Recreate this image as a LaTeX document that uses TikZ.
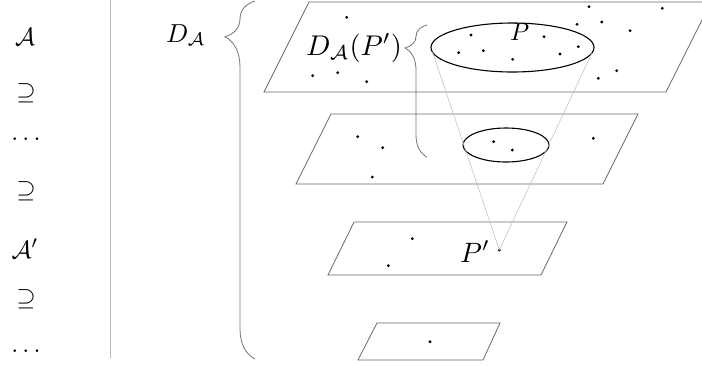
\documentclass[tikz,border=0pt]{standalone}
\usepackage{graphicx}
\usetikzlibrary{decorations.pathreplacing,shapes.geometric}
\definecolor{planegray}{RGB}{105,105,105}
\definecolor{conegray}{RGB}{195,195,195}
\definecolor{sepgray}{RGB}{185,185,185}
\definecolor{bracegray}{RGB}{115,115,115}
\newcommand{\scaledmath}[2]{\scalebox{#1}{$#2$}}
\begin{document}
\begin{tikzpicture}[x=1pt,y=-1pt,
  plane/.style={draw=planegray, line width=0.8pt},
  pt/.style={circle, fill=black, inner sep=0pt, minimum size=3.1pt},
  ell/.style={draw=black, ellipse, inner sep=0pt, line width=1.1pt},
  cone/.style={draw=conegray, line width=0.6pt},
  sepline/.style={draw=sepgray, line width=0.8pt},
  bigbrace/.style={draw=bracegray, line width=0.8pt, decorate},
  leftsym/.style={anchor=base, inner sep=0pt},
  lab/.style={anchor=base west, inner sep=0pt}
]
\useasboundingbox (0,0) rectangle (702,365);
\clip (0,0) rectangle (702,365);

% left column
\node[leftsym] (s1) at (25,45) {\scaledmath{2.5}{\mathcal{A}}};
\node[leftsym] (s2) at (26,99) {\scaledmath{2.5}{\supseteq}};
\node[leftsym] (s3) at (26,140) {\scaledmath{2.5}{\dots}};
\node[leftsym] (s4) at (26,197) {\scaledmath{2.5}{\supseteq}};
\node[leftsym] (s5) at (25,258) {\scaledmath{2.5}{\mathcal{A}'}};
\node[leftsym] (s6) at (26,305) {\scaledmath{2.5}{\supseteq}};
\node[leftsym] (s7) at (26,352) {\scaledmath{2.5}{\dots}};

% separator
\coordinate (septop) at (110,0);
\coordinate (sepbot) at (110,358);
\draw[sepline] (septop) -- (sepbot);

% D_A label and big brace
\node[lab] (DA) at (166,42) {\scaledmath{2.6}{D_{\mathcal{A}}}};
\draw[bigbrace, decoration={brace, amplitude=30pt, aspect=0.9}] (255,359) -- (255,1);

% planes
\draw[plane] (264,92) -- (666,92) -- (711,2) -- (309,2) -- cycle;
\draw[plane] (296,184) -- (603,184) -- (638,114) -- (331,114) -- cycle;
\draw[plane] (328,275) -- (541,275) -- (567,222) -- (354,222) -- cycle;
\draw[plane] (358,360) -- (483,360) -- (500,323) -- (377,323) -- cycle;

% ellipses
\node[ell, minimum width=163pt, minimum height=49pt] (e1) at (512.5,47.5) {};
\node[ell, minimum width=86pt, minimum height=34pt] (e2) at (506,145) {};

% dots plane 1
\foreach \x/\y [count=\i] in {346.7/17.3, 312.7/75.7, 337.7/72.7, 366.7/81.7,
  471/35, 458.7/52.7, 483.3/50.7, 512.7/59.3, 544/36.7, 560/54, 578.3/46.7,
  589/6.7, 601.7/22, 577/24.3, 630/30.7, 662.3/8.3, 616.7/70.7, 598.3/78.3}
  \node[pt] (a\i) at (\x,\y) {};
% dots plane 2
\foreach \x/\y [count=\i] in {357.7/136.7, 382.7/147.7, 372.3/177, 493.7/141.7, 512.3/150, 593.3/138.3}
  \node[pt] (b\i) at (\x,\y) {};
% dots plane 3
\node[pt] (c1) at (412.3,238.7) {};
\node[pt] (c2) at (388.3,265.7) {};
\node[pt] (pP) at (499.3,250) {};
% dot plane 4
\node[pt] (d1) at (430,341.7) {};

% cone
\coordinate (cl) at (432.5,52);
\coordinate (cr) at (592,53);
\draw[cone] (cl) -- (pP.center);
\draw[cone] (cr) -- (pP.center);

% labels
\node[lab] (DAP) at (306,55) {\scaledmath{2.85}{D_{\mathcal{A}}(P')}};
\draw[bigbrace, decoration={brace, amplitude=22pt, aspect=0.826}] (427,157) -- (427,25);
\node[lab] (Plab) at (510,40) {\scaledmath{2.45}{P}};
\node[lab] (Pplab) at (460,262) {\scaledmath{2.8}{P'}};
\end{tikzpicture}
\end{document}
